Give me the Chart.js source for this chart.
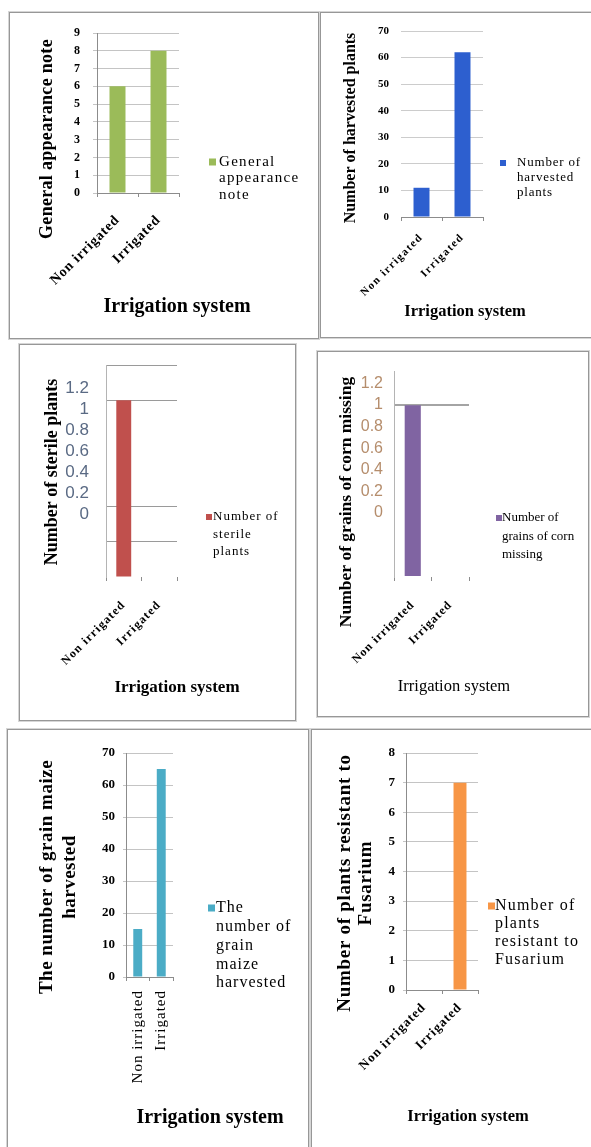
<!DOCTYPE html>
<html><head><meta charset="utf-8">
<script src="https://cdn.jsdelivr.net/npm/chart.js@4/dist/chart.umd.min.js"></script>
<style>
html,body{margin:0;padding:0;background:#fff;}
body{width:591px;height:1147px;position:relative;overflow:hidden;}
.panel{position:absolute;box-sizing:border-box;border:1px solid #979797;box-shadow:0 0 0 1px #d6d6d6;background:#fff;}
canvas{position:absolute;}
</style></head><body>
<div class="panel" style="left:9px;top:12px;width:310px;height:327px"></div>
<div class="panel" style="left:320px;top:12px;width:290px;height:326px"></div>
<div class="panel" style="left:19px;top:344px;width:277px;height:377px"></div>
<div class="panel" style="left:317px;top:351px;width:272px;height:366px"></div>
<div class="panel" style="left:7px;top:729px;width:302px;height:440px"></div>
<div class="panel" style="left:311px;top:729px;width:300px;height:440px"></div>
<canvas id="c1"></canvas><canvas id="c2"></canvas><canvas id="c3"></canvas>
<canvas id="c4"></canvas><canvas id="c5"></canvas><canvas id="c6"></canvas>
<script>
// ---- data ----
const categories = ['Non irrigated', 'Irrigated'];
const appearanceNote = [6, 8];
const harvestedPlants = [11, 62];
const sterilePlants = [1, 0];
const missingGrains = [1, 0];
const grainMaizeHarvested = [15, 65];
const fusariumResistant = [0, 7];
const fractionTicks = [0, 0.2, 0.4, 0.6, 0.8, 1, 1.2];
const xAxisTitle = 'Irrigation system';
const appearanceLegend = ['General', 'appearance', 'note'];
const harvestedLegend = ['Number of', 'harvested', 'plants'];
const sterileLegend = ['Number of', 'sterile', 'plants'];
const missingLegend = ['Number of', 'grains of corn', 'missing'];
const maizeLegend = ['The', 'number of', 'grain', 'maize', 'harvested'];
const fusariumLegend = ['Number of', 'plants', 'resistant to', 'Fusarium'];
const appearanceTitle = ['General appearance note'];
const harvestedTitle = ['Number of harvested plants'];
const sterileTitle = ['Number of sterile plants'];
const missingTitle = ['Number of grains of corn missing'];
const maizeTitle = ['The number of grain maize', 'harvested'];
const fusariumTitle = ['Number of plants resistant to', 'Fusarium'];

const SERIF = "'Liberation Serif','Times New Roman',serif";
const NARROW = "'Liberation Sans Narrow','Arial Narrow','Liberation Sans',sans-serif";

const panelText = {
  id: 'panelText',
  afterDraw(chart, args, o) {
    const ctx = chart.ctx;
    const [ox, oy] = o.origin;
    const draw = (it, rot) => {
      ctx.save();
      ctx.font = it.font;
      ctx.fillStyle = it.color || '#000';
      ctx.letterSpacing = it.spacing || '0px';
      ctx.textBaseline = 'middle';
      ctx.textAlign = it.align || 'center';
      ctx.translate(it.x - ox, it.y - oy);
      if (rot) ctx.rotate(rot);
      it.lines.forEach((ln, i) => ctx.fillText(ln, 0, i * (it.lh || 0)));
      ctx.restore();
    };
    if (o.yTitle) draw(o.yTitle, -Math.PI / 2);
    if (o.xTitle) draw(o.xTitle, 0);
    if (o.legend) {
      const L = o.legend, ds = chart.data.datasets[0];
      ctx.save();
      ctx.fillStyle = ds.backgroundColor;
      ctx.fillRect(L.x - ox, L.y - oy - L.size / 2, L.size, L.size);
      ctx.restore();
      draw({lines: L.lines, x: L.tx, y: L.y, lh: L.lh, font: L.font, spacing: L.spacing, align: 'left'}, 0);
    }
  }
};

function makeChart(id, box, area, spec) {
  const [bx, by, bw, bh] = box;
  const [l, t, r, b] = area;
  const cv = document.getElementById(id);
  cv.width = bw; cv.height = bh;
  cv.style.left = bx + 'px'; cv.style.top = by + 'px';
  const yW = l - bx, xH = by + bh - b;
  const fixY = w => s => { s.width = w; s.paddingTop = 0; s.paddingBottom = 0; };
  const scales = {
    x: Object.assign({}, spec.x, {
      afterFit: s => { s.height = xH; s.paddingLeft = 0; s.paddingRight = 0; },
      afterUpdate: s => {
        if (s._spacedLabels) return;
        s._spacedLabels = true;
        const orig = s.drawLabels;
        s.drawLabels = function (a) {
          this.ctx.save();
          this.ctx.letterSpacing = spec.tickSpacing || '0px';
          orig.call(this, a);
          this.ctx.restore();
        };
      }
    })
  };
  if (spec.y2) {
    scales.y = Object.assign({}, spec.y, {position: 'left', afterFit: fixY(0)});
    scales.y2 = Object.assign({}, spec.y2, {position: 'left', afterFit: fixY(yW)});
  } else {
    scales.y = Object.assign({}, spec.y, {position: 'left', afterFit: fixY(yW)});
  }
  return new Chart(cv, {
    type: 'bar',
    data: {
      labels: categories,
      datasets: [{
        label: spec.legend.lines.join(' '),
        data: spec.data,
        backgroundColor: spec.color,
        borderWidth: 0,
        barPercentage: spec.bar,
        categoryPercentage: 1,
        yAxisID: 'y'
      }]
    },
    options: {
      responsive: false,
      animation: false,
      devicePixelRatio: 1,
      layout: {padding: {left: 0, top: t - by, right: bx + bw - r, bottom: 0}},
      plugins: {
        legend: {display: false},
        tooltip: {enabled: false},
        panelText: {origin: [bx, by], yTitle: spec.yTitle, xTitle: spec.xTitle, legend: spec.legend}
      },
      scales
    },
    plugins: [panelText]
  });
}

const xBase = (font, rot, pad) => ({
  type: 'category',
  offset: true,
  grid: {drawOnChartArea: false, drawTicks: true, tickLength: 4, color: '#8c8c8c', offset: true},
  border: {display: true, color: '#8c8c8c'},
  ticks: {minRotation: rot, maxRotation: rot, autoSkip: false, font: font, color: '#000', padding: pad}
});
const fracLabel = v => String(v);

// Chart 1
makeChart('c1', [10, 13, 308, 325], [97, 33, 179, 193], {
  data: appearanceNote, color: '#9bbb59', bar: 0.39, tickSpacing: '0.8px',
  y: {min: 0, max: 9, ticks: {stepSize: 1, autoSkip: false, font: {family: SERIF, size: 12, weight: 'bold'}, color: '#000', padding: 13},
      grid: {color: '#c4c4c4', tickLength: 4}, border: {color: '#8c8c8c'}},
  x: xBase({family: SERIF, size: 14, weight: 'bold'}, 45, 15),
  yTitle: {lines: appearanceTitle, x: 47, y: 139, font: 'bold 18px ' + SERIF, spacing: '0.3px'},
  xTitle: {lines: [xAxisTitle], x: 177, y: 307, font: 'bold 20px ' + SERIF},
  legend: {lines: appearanceLegend, x: 209, tx: 219, y: 162, lh: 16.5, size: 7, font: '15px ' + SERIF, spacing: '1.3px'}
});

// Chart 2
makeChart('c2', [321, 13, 270, 324], [401, 31, 483, 217], {
  data: harvestedPlants, color: '#2d5fcf', bar: 0.39, tickSpacing: '1.5px',
  y: {min: 0, max: 70, ticks: {stepSize: 10, autoSkip: false, font: {family: SERIF, size: 11, weight: 'bold'}, color: '#000', padding: 12},
      grid: {color: '#cccccc', drawTicks: false}, border: {display: false}},
  x: xBase({family: SERIF, size: 11, weight: 'bold'}, 45, 10),
  yTitle: {lines: harvestedTitle, x: 351, y: 128, font: 'bold 16px ' + SERIF},
  xTitle: {lines: [xAxisTitle], x: 465, y: 312, font: 'bold 16.5px ' + SERIF},
  legend: {lines: harvestedLegend, x: 500, tx: 517, y: 163, lh: 15, size: 6, font: '13px ' + SERIF, spacing: '0.8px'}
});

// Chart 3
makeChart('c3', [20, 345, 275, 375], [106, 365, 177, 577], {
  data: sterilePlants, color: '#c0504d', bar: 0.42, tickSpacing: '1.2px',
  y: {min: 0, max: 1.2, ticks: {stepSize: 0.2, display: false},
      grid: {drawTicks: false, color: c => [1.2, 1, 0.4, 0.2].some(v => Math.abs(v - c.tick.value) < 1e-6) ? '#9a9a9a' : 'rgba(0,0,0,0)'},
      border: {display: false}},
  y2: {min: -0.6, max: 1.419, afterBuildTicks: s => { s.ticks = fractionTicks.map(v => ({value: v})); },
       ticks: {autoSkip: false, font: {family: NARROW, size: 17}, color: '#5a6a84', padding: 17, callback: fracLabel},
       grid: {drawOnChartArea: false, drawTicks: false, color: 'rgba(0,0,0,0)'},
       border: {display: true, color: '#b4b4b4'}},
  x: Object.assign(xBase({family: SERIF, size: 12, weight: 'bold'}, 45, 17), {border: {display: false}}),
  yTitle: {lines: sterileTitle, x: 52, y: 472, font: 'bold 18px ' + SERIF},
  xTitle: {lines: [xAxisTitle], x: 177, y: 688, font: 'bold 17px ' + SERIF},
  legend: {lines: sterileLegend, x: 206, tx: 213, y: 517, lh: 17.5, size: 6, font: '13px ' + SERIF, spacing: '1px'}
});

// Chart 4
makeChart('c4', [318, 352, 270, 364], [394, 371, 469, 577], {
  data: missingGrains, color: '#8064a2', bar: 0.43, tickSpacing: '1px',
  y: {min: 0, max: 1.2, ticks: {stepSize: 0.2, display: false},
      grid: {drawTicks: false, lineWidth: 2, color: c => Math.abs(c.tick.value - 1) < 1e-6 ? '#a4a4a4' : 'rgba(0,0,0,0)'},
      border: {display: false}},
  y2: {min: -0.593, max: 1.315, afterBuildTicks: s => { s.ticks = fractionTicks.map(v => ({value: v})); },
       ticks: {autoSkip: false, font: {family: NARROW, size: 16}, color: '#b58d6c', padding: 11, callback: fracLabel},
       grid: {drawOnChartArea: false, drawTicks: false, color: 'rgba(0,0,0,0)'},
       border: {display: true, color: '#b4b4b4'}},
  x: Object.assign(xBase({family: SERIF, size: 12, weight: 'bold'}, 45, 17), {border: {display: false}}),
  yTitle: {lines: missingTitle, x: 346, y: 502, font: 'bold 17.5px ' + SERIF},
  xTitle: {lines: [xAxisTitle], x: 454, y: 687, font: '16.5px ' + SERIF},
  legend: {lines: missingLegend, x: 496, tx: 502, y: 518, lh: 18.5, size: 6, font: '13px ' + SERIF, spacing: '0px'}
});

// Chart 5
makeChart('c5', [8, 730, 300, 417], [126, 753, 173, 977], {
  data: grainMaizeHarvested, color: '#4bacc6', bar: 0.38, tickSpacing: '1px',
  y: {min: 0, max: 70, ticks: {stepSize: 10, autoSkip: false, font: {family: SERIF, size: 13, weight: 'bold'}, color: '#000', padding: 8},
      grid: {color: '#c4c4c4', tickLength: 3}, border: {color: '#8c8c8c'}},
  x: xBase({family: SERIF, size: 15}, 90, 9),
  yTitle: {lines: maizeTitle, x: 47, y: 877, lh: 23, font: 'bold 19px ' + SERIF, spacing: '0.5px'},
  xTitle: {lines: [xAxisTitle], x: 210, y: 1118, font: 'bold 20px ' + SERIF},
  legend: {lines: maizeLegend, x: 208, tx: 216, y: 908, lh: 18.8, size: 7, font: '16px ' + SERIF, spacing: '1px'}
});

// Chart 6
makeChart('c6', [312, 730, 279, 417], [406, 753, 478, 990], {
  data: fusariumResistant, color: '#f79646', bar: 0.36, tickSpacing: '1px',
  y: {min: 0, max: 8, ticks: {stepSize: 1, autoSkip: false, font: {family: SERIF, size: 13, weight: 'bold'}, color: '#000', padding: 8},
      grid: {color: '#c4c4c4', tickLength: 3}, border: {color: '#8c8c8c'}},
  x: xBase({family: SERIF, size: 13, weight: 'bold'}, 45, 6),
  yTitle: {lines: fusariumTitle, x: 345, y: 883, lh: 21, font: 'bold 19px ' + SERIF, spacing: '0.7px'},
  xTitle: {lines: [xAxisTitle], x: 468, y: 1117, font: 'bold 16.5px ' + SERIF},
  legend: {lines: fusariumLegend, x: 488, tx: 495, y: 906, lh: 18, size: 7, font: '16px ' + SERIF, spacing: '1.2px'}
});
</script>
</body></html>
